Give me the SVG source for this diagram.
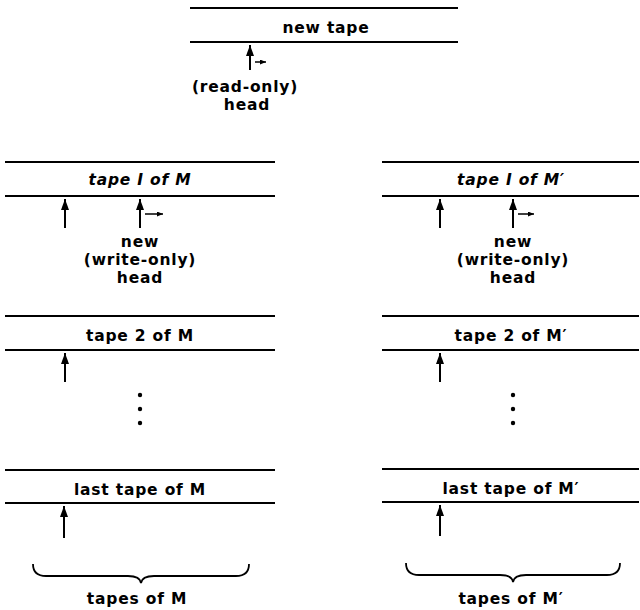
<svg xmlns="http://www.w3.org/2000/svg" width="640" height="610" viewBox="0 0 640 610">
<defs>
<marker id="ah" viewBox="0 0 10 10" refX="10" refY="5" markerWidth="11" markerHeight="8" markerUnits="userSpaceOnUse" orient="auto" preserveAspectRatio="none">
<path d="M0,0 L10,5 L0,10 Z" fill="#000"/>
</marker>
<marker id="sh" viewBox="0 0 10 10" refX="10" refY="5" markerWidth="6" markerHeight="5" markerUnits="userSpaceOnUse" orient="auto" preserveAspectRatio="none">
<path d="M0,0 L10,5 L0,10 Z" fill="#000"/>
</marker>
<style>
.tl{stroke:#000;stroke-width:2.2;fill:none}
.hd{stroke:#000;stroke-width:2;fill:none}
.mv{stroke:#000;stroke-width:1.5;fill:none}
.br{stroke:#000;stroke-width:1.8;fill:none}
text{font-family:"DejaVu Sans","Liberation Sans",sans-serif;font-size:15.5px;font-weight:bold;letter-spacing:0.8px;fill:#000;text-anchor:middle}
</style>
</defs>
<rect width="640" height="610" fill="#fff"/>

<g id="new-tape">
<line class="tl" x1="190" y1="8" x2="458" y2="8"/>
<line class="tl" x1="190" y1="42" x2="458" y2="42"/>
<text x="326" y="33">new tape</text>
</g>
<g id="read-head">
<text x="245" y="92">(read-only)</text>
<text x="247" y="110">head</text>
</g>

<g id="tape1-M">
<line class="tl" x1="5" y1="162" x2="275" y2="162"/>
<line class="tl" x1="5" y1="196" x2="275" y2="196"/>
<text x="140" y="185" font-style="italic">tape I of M</text>
<text x="140" y="247">new</text>
<text x="140" y="265">(write-only)</text>
<text x="140" y="283">head</text>
</g>
<g id="tape1-Mp">
<line class="tl" x1="382" y1="162" x2="639" y2="162"/>
<line class="tl" x1="382" y1="196" x2="639" y2="196"/>
<text x="511" y="185" font-style="italic">tape I of M′</text>
<text x="513" y="247">new</text>
<text x="513" y="265">(write-only)</text>
<text x="513" y="283">head</text>
</g>

<g id="tape2-M">
<line class="tl" x1="5" y1="316" x2="275" y2="316"/>
<line class="tl" x1="5" y1="350" x2="275" y2="350"/>
<text x="140" y="341">tape 2 of M</text>
</g>
<g id="tape2-Mp">
<line class="tl" x1="382" y1="316" x2="639" y2="316"/>
<line class="tl" x1="382" y1="350" x2="639" y2="350"/>
<text x="511" y="341">tape 2 of M′</text>
</g>

<g id="dots-M">
<circle cx="140" cy="395" r="2.2"/>
<circle cx="140" cy="409" r="2.2"/>
<circle cx="140" cy="423" r="2.2"/>
</g>
<g id="dots-Mp">
<circle cx="513" cy="395" r="2.2"/>
<circle cx="513" cy="409" r="2.2"/>
<circle cx="513" cy="423" r="2.2"/>
</g>

<g id="last-M">
<line class="tl" x1="5" y1="470" x2="275" y2="470"/>
<line class="tl" x1="5" y1="503" x2="275" y2="503"/>
<text x="140" y="495">last tape of M</text>
</g>
<g id="last-Mp">
<line class="tl" x1="382" y1="469" x2="639" y2="469"/>
<line class="tl" x1="382" y1="502" x2="639" y2="502"/>
<text x="511" y="494">last tape of M′</text>
</g>

<g id="brace-M">
<path class="br" d="M33,564 Q33,576 46,576 L128,576 Q140,576 141,583 Q142,576 154,576 L236,576 Q249,576 249,564"/>
<text x="137" y="604">tapes of M</text>
</g>
<g id="brace-Mp">
<path class="br" d="M406,563 Q406,575 419,575 L500,575 Q512,575 513,582 Q514,575 526,575 L607,575 Q620,575 620,563"/>
<text x="511" y="604">tapes of M′</text>
</g>

<g id="connectors">
<line class="hd" x1="250" y1="70" x2="250" y2="45" marker-end="url(#ah)"/>
<line class="mv" x1="255" y1="62" x2="266" y2="62" marker-end="url(#sh)"/>

<line class="hd" x1="65" y1="228" x2="65" y2="199" marker-end="url(#ah)"/>
<line class="hd" x1="140" y1="228" x2="140" y2="199" marker-end="url(#ah)"/>
<line class="mv" x1="145" y1="214" x2="163" y2="214" marker-end="url(#sh)"/>

<line class="hd" x1="440" y1="228" x2="440" y2="199" marker-end="url(#ah)"/>
<line class="hd" x1="513" y1="228" x2="513" y2="199" marker-end="url(#ah)"/>
<line class="mv" x1="518" y1="214" x2="534" y2="214" marker-end="url(#sh)"/>

<line class="hd" x1="65" y1="382" x2="65" y2="353" marker-end="url(#ah)"/>
<line class="hd" x1="440" y1="382" x2="440" y2="353" marker-end="url(#ah)"/>

<line class="hd" x1="64" y1="538" x2="64" y2="506" marker-end="url(#ah)"/>
<line class="hd" x1="440" y1="536" x2="440" y2="505" marker-end="url(#ah)"/>
</g>
</svg>
